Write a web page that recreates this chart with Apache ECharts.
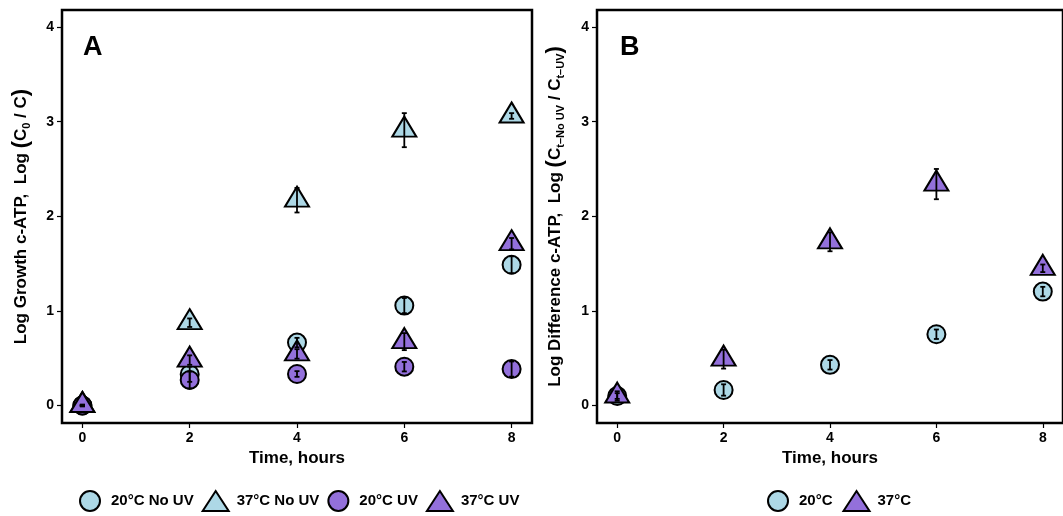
<!DOCTYPE html>
<html>
<head>
<meta charset="utf-8">
<script src="https://cdn.jsdelivr.net/npm/echarts@6/dist/echarts.min.js"></script>
<style>
html,body{margin:0;padding:0;background:#fff;}
#chart{width:1063px;height:516px;}
</style>
</head>
<body>
<div id="chart"></div>
<script>
// ---- data ----
const hours = [0, 2, 4, 6, 8];
const xTicks = [0, 2, 4, 6, 8];
const yTicks = [0, 1, 2, 3, 4];

// Panel A: Log growth c-ATP
const a20NoUV    = [0.00, 0.33, 0.665, 1.056, 1.487];
const a20NoUVErr = [0.01, 0.08, 0.05, 0.08, 0.09];
const a37NoUV    = [0.00, 0.875, 2.17, 2.91, 3.06];
const a37NoUVErr = [0.005, 0.045, 0.13, 0.18, 0.03];
const a20UV      = [0.00, 0.27, 0.333, 0.41, 0.385];
const a20UVErr   = [0.005, 0.09, 0.03, 0.05, 0.08];
const a37UV      = [0.00, 0.48, 0.545, 0.675, 1.71];
const a37UVErr   = [0.005, 0.05, 0.05, 0.09, 0.06];

// Panel B: Log difference c-ATP
const b20    = [0.10, 0.164, 0.43, 0.753, 1.204];
const b20Err = [0.03, 0.06, 0.05, 0.05, 0.05];
const b37    = [0.10, 0.49, 1.73, 2.34, 1.45];
const b37Err = [0.05, 0.10, 0.10, 0.16, 0.04];

const namesA = ['20°C No UV', '37°C No UV', '20°C UV', '37°C UV'];
const namesB = ['20°C', '37°C'];

// ---- styling ----
const FONT = '"Liberation Sans", Arial, sans-serif';
const BLUE = '#ADD8E6';
const PURPLE = '#9370DB';

function pts(vals) { return hours.map((h, i) => [h, vals[i]]); }
function errs(vals, e) { return hours.map((h, i) => [h, vals[i], e[i]]); }

function scatter(name, vals, color, shape, idx) {
  const tri = shape === 'triangle';
  return {
    type: 'scatter', name: name, xAxisIndex: idx, yAxisIndex: idx,
    data: pts(vals),
    symbol: shape,
    symbolSize: tri ? [24, 20] : 18,
    symbolOffset: tri ? [0, -3.5] : [0, 0],
    itemStyle: { color: color, borderColor: '#000', borderWidth: 2, opacity: 1 },
    emphasis: { disabled: true },
    z: 2
  };
}

function errorBars(vals, e, idx) {
  return {
    type: 'custom', xAxisIndex: idx, yAxisIndex: idx,
    data: errs(vals, e),
    silent: true,
    z: 5,
    renderItem: function (params, api) {
      const x = api.value(0), y = api.value(1), d = api.value(2);
      const lo = api.coord([x, y - d]);
      const hi = api.coord([x, y + d]);
      const w = 2.5;
      const st = { stroke: '#000', lineWidth: 1.8 };
      return {
        type: 'group',
        children: [
          { type: 'line', shape: { x1: lo[0], y1: lo[1], x2: hi[0], y2: hi[1] }, style: st },
          { type: 'line', shape: { x1: lo[0] - w, y1: lo[1], x2: lo[0] + w, y2: lo[1] }, style: st },
          { type: 'line', shape: { x1: hi[0] - w, y1: hi[1], x2: hi[0] + w, y2: hi[1] }, style: st }
        ]
      };
    }
  };
}

function xAxis(idx) {
  return {
    type: 'value', gridIndex: idx, min: -0.38, max: 8.38,
    name: 'Time, hours', nameLocation: 'middle', nameGap: 25,
    nameTextStyle: { fontFamily: FONT, fontWeight: 'bold', fontSize: 17, color: '#000' },
    axisLine: { show: false, onZero: false },
    axisTick: { show: true, length: 5, customValues: xTicks, lineStyle: { color: '#000', width: 1.2 } },
    axisLabel: { customValues: xTicks, margin: 8, fontFamily: FONT, fontWeight: 'bold', fontSize: 14, color: '#000' },
    splitLine: { show: false }
  };
}

function yAxis(idx, name, gap) {
  return {
    type: 'value', gridIndex: idx, min: -0.185, max: 4.18,
    name: name, nameLocation: 'middle', nameGap: gap, nameRotate: 90,
    nameTextStyle: {
      fontFamily: FONT, fontWeight: 'bold', fontSize: 17, color: '#000', lineHeight: 22,
      rich: {
        p: { fontFamily: FONT, fontWeight: 'bold', fontSize: 22, color: '#000', lineHeight: 22 },
        c: { fontFamily: FONT, fontWeight: 'bold', fontSize: 17, color: '#000', lineHeight: 22 },
        sub: { fontFamily: FONT, fontWeight: 'bold', fontSize: 11, color: '#000', lineHeight: 12, verticalAlign: 'bottom' }
      }
    },
    axisLine: { show: false, onZero: false },
    axisTick: { show: true, length: 5, customValues: yTicks, lineStyle: { color: '#000', width: 1.2 } },
    axisLabel: { customValues: yTicks, margin: 8, fontFamily: FONT, fontWeight: 'bold', fontSize: 14, color: '#000' },
    splitLine: { show: false }
  };
}

const legendText = { fontFamily: FONT, fontWeight: 'bold', fontSize: 15, color: '#000', padding: [0, 0, 0, 3] };

const option = {
  animation: false,
  backgroundColor: '#fff',
  grid: [
    { left: 62, top: 10, width: 470, height: 413, show: true, borderColor: '#000', borderWidth: 2.5, backgroundColor: 'transparent', containLabel: false },
    { left: 597, top: 10, width: 470, height: 413, show: true, borderColor: '#000', borderWidth: 2.5, backgroundColor: 'transparent', containLabel: false }
  ],
  xAxis: [xAxis(0), xAxis(1)],
  yAxis: [
    yAxis(0, 'Log Growth c-ATP,  Log {p|(}{c|C}{sub|0}{c| / C}{p|)}', 30),
    yAxis(1, 'Log Difference c-ATP,  Log {p|(}{c|C}{sub|t\u2013No UV}{c| / C}{sub|t\u2013UV}{p|)}', 31)
  ],
  legend: [
    {
      data: namesA, left: 79, top: 490, padding: 0, itemGap: 8,
      itemWidth: 26, itemHeight: 20, textStyle: legendText,
      itemStyle: { borderColor: '#000', borderWidth: 2 }, selectedMode: false
    },
    {
      data: namesB, left: 767, top: 490, padding: 0, itemGap: 10,
      itemWidth: 26, itemHeight: 20, textStyle: legendText,
      itemStyle: { borderColor: '#000', borderWidth: 2 }, selectedMode: false
    }
  ],
  graphic: [
    { type: 'text', style: { text: 'A', x: 83, y: 48, fill: '#000', font: 'bold 27px "Liberation Sans", Arial, sans-serif', align: 'left', verticalAlign: 'middle' } },
    { type: 'text', style: { text: 'B', x: 620, y: 48, fill: '#000', font: 'bold 27px "Liberation Sans", Arial, sans-serif', align: 'left', verticalAlign: 'middle' } }
  ],
  series: [
    scatter(namesA[0], a20NoUV, BLUE, 'circle', 0),
    scatter(namesA[1], a37NoUV, BLUE, 'triangle', 0),
    scatter(namesA[2], a20UV, PURPLE, 'circle', 0),
    scatter(namesA[3], a37UV, PURPLE, 'triangle', 0),
    errorBars(a20NoUV, a20NoUVErr, 0),
    errorBars(a37NoUV, a37NoUVErr, 0),
    errorBars(a20UV, a20UVErr, 0),
    errorBars(a37UV, a37UVErr, 0),
    scatter(namesB[0], b20, BLUE, 'circle', 1),
    scatter(namesB[1], b37, PURPLE, 'triangle', 1),
    errorBars(b20, b20Err, 1),
    errorBars(b37, b37Err, 1)
  ]
};

const chart = echarts.init(document.getElementById('chart'), null, { renderer: 'canvas' });
chart.setOption(option);
</script>
</body>
</html>
